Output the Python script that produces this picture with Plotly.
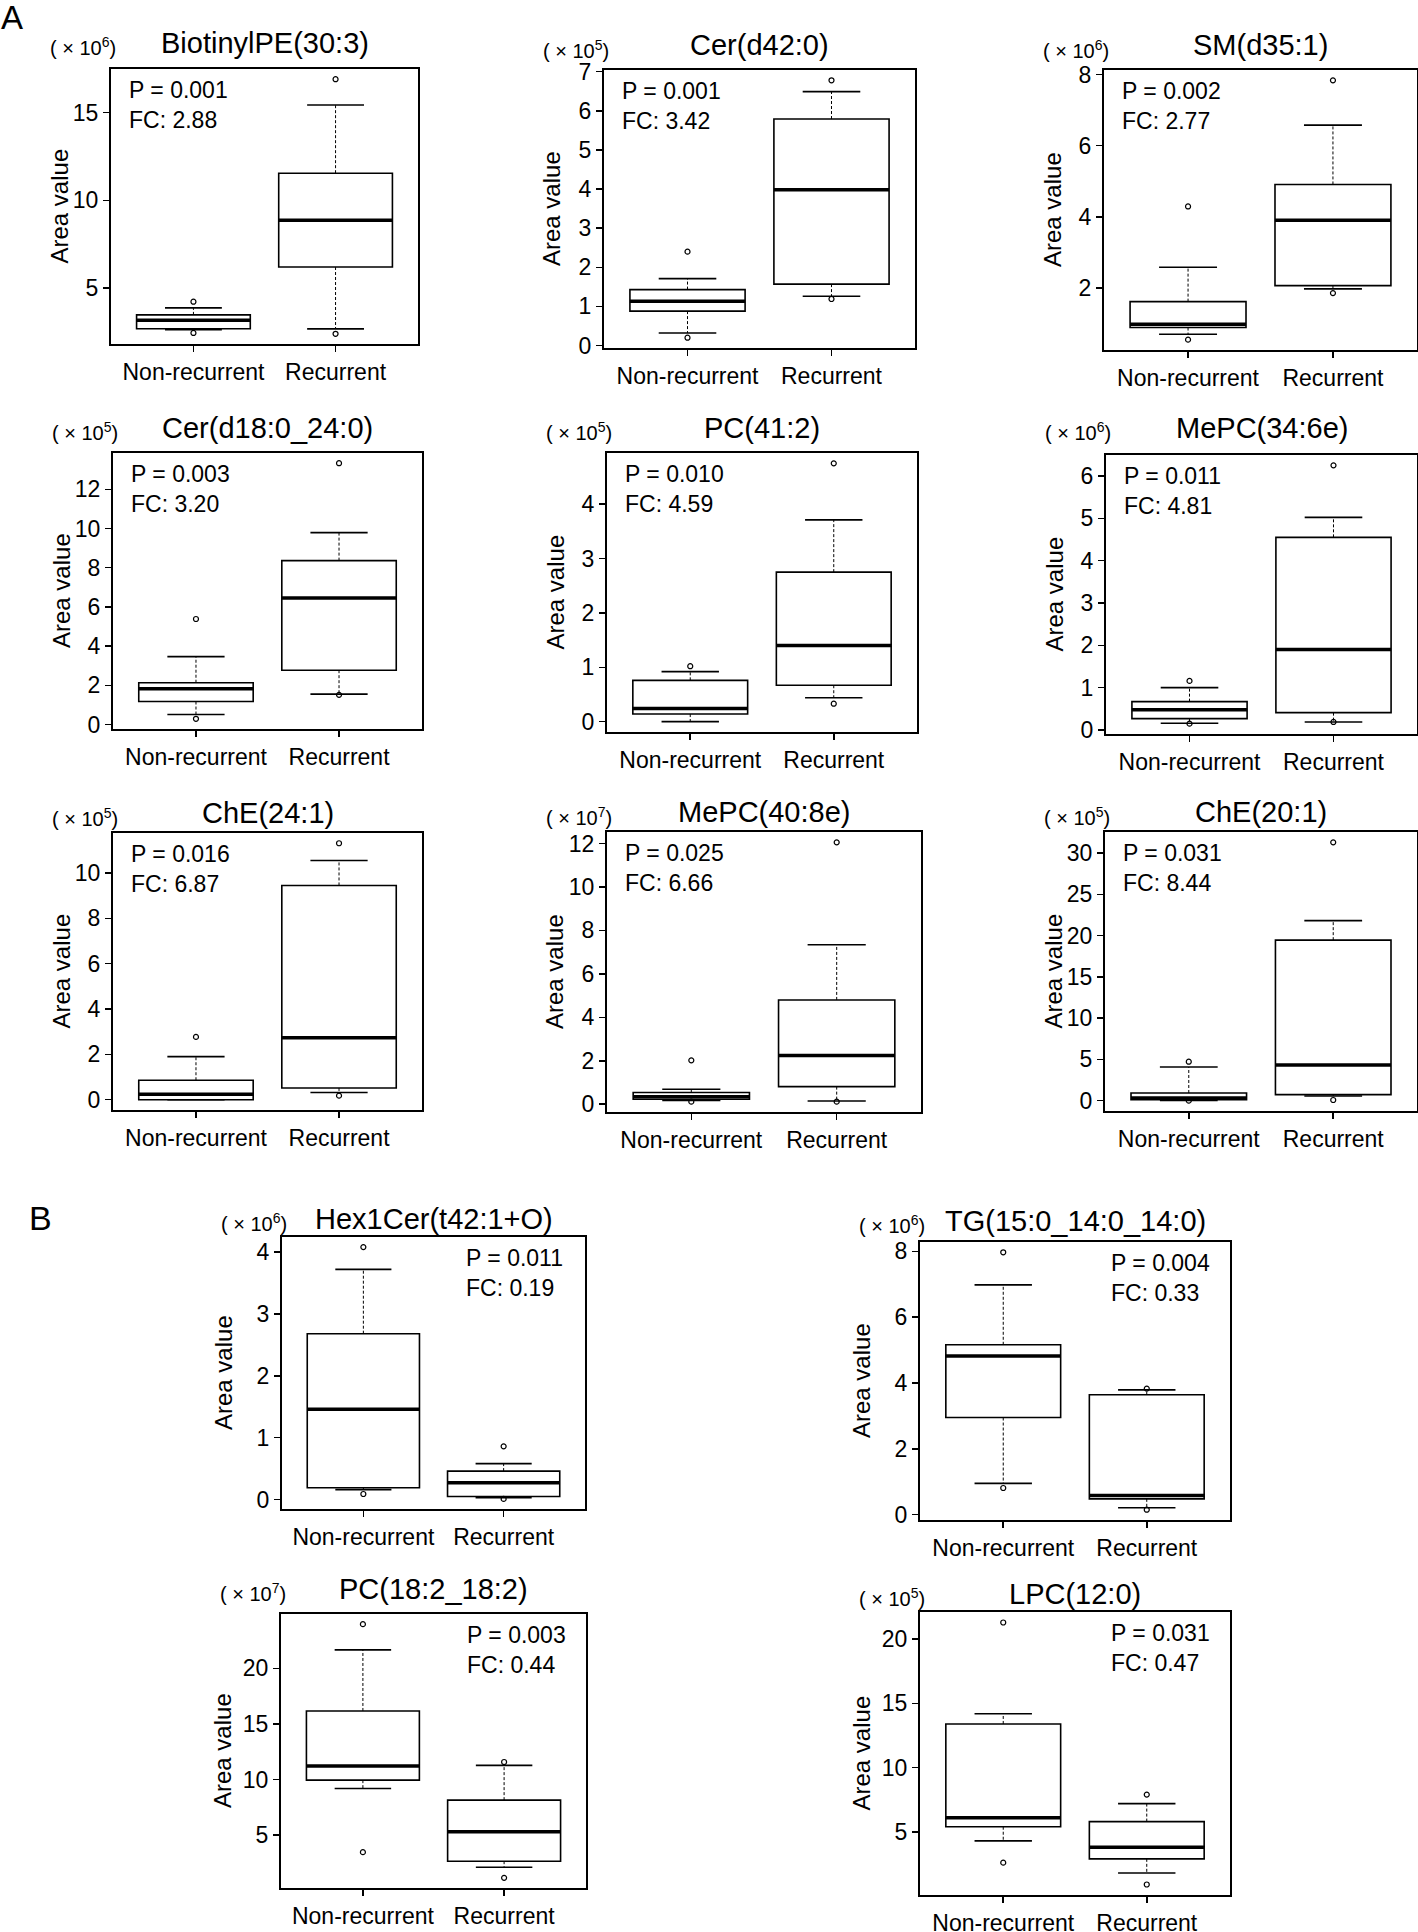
import plotly.graph_objects as go

# ---------------- data ----------------
names = ["BiotinylPE(30:3)", "Cer(d42:0)", "SM(d35:1)", "Cer(d18:0_24:0)", "PC(41:2)",
         "MePC(34:6e)", "ChE(24:1)", "MePC(40:8e)", "ChE(20:1)", "Hex1Cer(t42:1+O)",
         "TG(15:0_14:0_14:0)", "PC(18:2_18:2)", "LPC(12:0)"]
exponents = [6, 5, 6, 5, 5, 6, 5, 7, 5, 6, 6, 7, 5]
p_values = ["0.001", "0.001", "0.002", "0.003", "0.010", "0.011", "0.016", "0.025", "0.031",
            "0.011", "0.004", "0.003", "0.031"]
fold_changes = ["2.88", "3.42", "2.77", "3.20", "4.59", "4.81", "6.87", "6.66", "8.44",
                "0.19", "0.33", "0.44", "0.47"]
groups = ["Non-recurrent", "Recurrent"]

# Non-recurrent group (values in units of 10^exponent)
nr_low_out = [2.44, 0.20, 0.54, 0.29, None, 0.15, None, 0.12, 0.00, 0.09, 0.81, 3.47, 2.6]
nr_low_whisker = [2.62, 0.32, 0.69, 0.51, 0.00, 0.16, 0.00, 0.17, 0.04, 0.16, 0.95, 9.20, 4.3]
nr_q1 = [2.68, 0.88, 0.88, 1.17, 0.14, 0.27, 0.00, 0.23, 0.12, 0.19, 2.95, 9.95, 5.4]
nr_median = [3.17, 1.13, 0.97, 1.82, 0.24, 0.48, 0.24, 0.35, 0.32, 1.46, 4.82, 11.22, 6.1]
nr_q3 = [3.47, 1.43, 1.61, 2.13, 0.76, 0.67, 0.86, 0.54, 0.93, 2.68, 5.16, 16.17, 13.4]
nr_up_whisker = [3.87, 1.71, 2.58, 3.46, 0.92, 1.00, 1.90, 0.69, 4.07, 3.72, 6.98, 21.67, 14.2]
nr_up_out = [4.22, 2.40, 4.29, 5.38, 1.02, 1.16, 2.77, 2.02, 4.72, 4.08, 7.97, 23.98, 21.3]

# Recurrent group
r_low_out = [2.39, 1.19, 1.85, 1.51, 0.33, 0.19, 0.18, 0.12, 0.08, 0.01, 0.15, 1.16, 0.9]
r_low_whisker = [2.67, 1.26, 1.97, 1.55, 0.44, 0.19, 0.32, 0.15, 0.56, 0.03, 0.21, 2.12, 1.8]
r_q1 = [6.20, 1.57, 2.06, 2.77, 0.67, 0.41, 0.52, 0.81, 0.73, 0.05, 0.48, 2.66, 2.9]
r_median = [8.87, 3.98, 3.90, 6.45, 1.40, 1.90, 2.73, 2.24, 4.31, 0.27, 0.58, 5.30, 3.8]
r_q3 = [11.55, 5.79, 4.91, 8.36, 2.75, 4.55, 9.45, 4.80, 19.44, 0.46, 3.64, 8.15, 5.8]
r_up_whisker = [15.44, 6.49, 6.58, 9.79, 3.71, 5.02, 10.55, 7.34, 21.81, 0.58, 3.79, 11.28, 7.2]
r_up_out = [16.91, 6.78, 7.84, 13.33, 4.75, 6.25, 11.31, 12.05, 31.29, 0.86, 3.83, 11.58, 7.9]

y_ticks = [[5, 10, 15], [0, 1, 2, 3, 4, 5, 6, 7], [2, 4, 6, 8], [0, 2, 4, 6, 8, 10, 12],
           [0, 1, 2, 3, 4], [0, 1, 2, 3, 4, 5, 6], [0, 2, 4, 6, 8, 10], [0, 2, 4, 6, 8, 10, 12],
           [0, 5, 10, 15, 20, 25, 30], [0, 1, 2, 3, 4], [0, 2, 4, 6, 8], [5, 10, 15, 20],
           [5, 10, 15, 20]]

# ---------------- layout geometry (pixels) ----------------
W, H = 1418, 1932
rects = [(111, 69, 418, 344), (604, 70, 915, 348), (1104, 70, 1417, 350),
         (113, 453, 422, 729), (607, 453, 917, 732), (1106, 455, 1417, 734),
         (113, 833, 422, 1110), (607, 832, 921, 1112), (1105, 832, 1417, 1111),
         (282, 1237, 585, 1509), (920, 1242, 1230, 1520),
         (281, 1614, 586, 1888), (920, 1612, 1230, 1895)]
title_gap = [26, 25, 25, 25, 25, 27, 20, 20, 20, 18, 21, 25, 18]

FONT = "Liberation Sans, Arial, sans-serif"
NB = "\u00a0"


def fx(px):
    return px / W


def fy(py):
    return 1 - py / H


fig = go.Figure()
annotations = []
layout_axes = {}

for i in range(len(names)):
    xa = "x" if i == 0 else f"x{i+1}"
    ya = "y" if i == 0 else f"y{i+1}"
    L, T, R, B = rects[i]
    part_a = i < 9

    stats = [
        (1, nr_low_out[i], nr_low_whisker[i], nr_q1[i], nr_median[i], nr_q3[i], nr_up_whisker[i], nr_up_out[i]),
        (2, r_low_out[i], r_low_whisker[i], r_q1[i], r_median[i], r_q3[i], r_up_whisker[i], r_up_out[i]),
    ]
    allvals = []
    for s in stats:
        allvals += [v for v in s[1:] if v is not None]
    lo, hi = min(allvals), max(allvals)
    pad = 0.04 * (hi - lo)

    for (g, lout, lw, q1, med, q3, uw, uout) in stats:
        # dashed whiskers
        fig.add_trace(go.Scatter(x=[g, g, None, g, g], y=[q3, uw, None, q1, lw], mode="lines",
                                 line=dict(color="black", width=1, dash="3px,2px"),
                                 xaxis=xa, yaxis=ya, showlegend=False, hoverinfo="skip"))
        # box
        fig.add_trace(go.Box(x=[g], q1=[q1], median=[med], q3=[q3], lowerfence=[q1], upperfence=[q3],
                             width=0.8, fillcolor="white", line=dict(color="black", width=1.6),
                             boxpoints=False, whiskerwidth=0, xaxis=xa, yaxis=ya,
                             showlegend=False, hoverinfo="skip"))
        # staples
        fig.add_trace(go.Scatter(x=[g - 0.2, g + 0.2, None, g - 0.2, g + 0.2], y=[uw, uw, None, lw, lw],
                                 mode="lines", line=dict(color="black", width=1.6),
                                 xaxis=xa, yaxis=ya, showlegend=False, hoverinfo="skip"))
        # median (thick)
        fig.add_trace(go.Scatter(x=[g - 0.4, g + 0.4], y=[med, med], mode="lines",
                                 line=dict(color="black", width=3.5),
                                 xaxis=xa, yaxis=ya, showlegend=False, hoverinfo="skip"))
        # outliers
        fig.add_trace(go.Scatter(x=[g, g], y=[lout, uout], mode="markers",
                                 marker=dict(symbol="circle-open", size=5, color="black",
                                             line=dict(width=1.2, color="black")),
                                 xaxis=xa, yaxis=ya, showlegend=False, hoverinfo="skip"))

    xkey = "xaxis" if i == 0 else f"xaxis{i+1}"
    ykey = "yaxis" if i == 0 else f"yaxis{i+1}"
    common = dict(ticks="outside", ticklen=6, tickwidth=1.5, tickcolor="black",
                  showline=True, mirror=True, linecolor="black", linewidth=2,
                  showgrid=False, zeroline=False, automargin=False, fixedrange=True)
    layout_axes[xkey] = dict(domain=[fx(L), fx(R)], anchor=ya, range=[0.42, 2.58],
                             tickmode="array", tickvals=[1, 2], ticktext=groups, tickangle=0,
                             tickfont=dict(family=FONT, size=23, color="black"), **common)
    layout_axes[ykey] = dict(domain=[fy(B), fy(T)], anchor=xa, range=[lo - pad, hi + pad],
                             tickmode="array", tickvals=y_ticks[i],
                             ticktext=[str(v) for v in y_ticks[i]],
                             tickfont=dict(family=FONT, size=23, color="black"), **common)

    cx = (L + R) / 2
    ty = T - title_gap[i]
    # title
    annotations.append(dict(x=fx(cx), y=fy(ty), xref="paper", yref="paper",
                            text=names[i], showarrow=False, xanchor="center", yanchor="middle",
                            font=dict(family=FONT, size=29, color="black")))
    # unit label
    annotations.append(dict(x=fx(L + 7), y=fy(ty + (4 if part_a else 3)), xref="paper", yref="paper",
                            text=f"({NB}\u00d7{NB}10<sup>{exponents[i]}</sup>)", showarrow=False,
                            xanchor="right", yanchor="middle",
                            font=dict(family=FONT, size=20, color="black")))
    # y title
    annotations.append(dict(x=fx(L - (52 if part_a else 59)), y=fy((T + B) / 2), xref="paper", yref="paper",
                            text="Area value", showarrow=False, textangle=-90,
                            xanchor="center", yanchor="middle",
                            font=dict(family=FONT, size=24, color="black")))
    # stats text
    tx = L + 16 if part_a else R - 121
    annotations.append(dict(x=fx(tx), y=fy(T + 6), xref="paper", yref="paper",
                            text=f"P = {p_values[i]}<br>FC: {fold_changes[i]}", showarrow=False,
                            xanchor="left", yanchor="top", align="left",
                            font=dict(family=FONT, size=23, color="black")))

annotations.append(dict(x=fx(-1), y=fy(17), xref="paper", yref="paper", text="A", showarrow=False,
                        xanchor="left", yanchor="middle", font=dict(family=FONT, size=33, color="black")))
annotations.append(dict(x=fx(27), y=fy(1218), xref="paper", yref="paper", text="B", showarrow=False,
                        xanchor="left", yanchor="middle", font=dict(family=FONT, size=34, color="black")))

fig.update_layout(template="none", width=W, height=H, margin=dict(l=0, r=0, t=0, b=0, pad=0),
                  paper_bgcolor="white", plot_bgcolor="white",
                  annotations=annotations, showlegend=False, **layout_axes)

fig.write_html("out.html", config={"displayModeBar": False, "staticPlot": True},
               post_script="document.body.style.margin='0px';document.body.style.overflow='hidden';")
